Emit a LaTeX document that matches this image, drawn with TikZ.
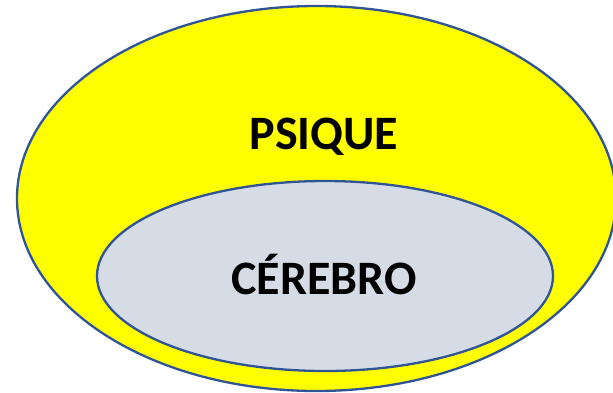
\documentclass[tikz,border=0pt]{standalone}
\usepackage{fontspec}
\setmainfont{Carlito}
\definecolor{edge}{HTML}{2F5597}
\definecolor{psy}{HTML}{FFFF00}
\definecolor{brain}{HTML}{D6DCE5}
\begin{document}
\begin{tikzpicture}[x=1pt,y=-1pt,
  blob/.style={draw=edge,line width=2.3pt},
  lbl/.style={font=\fontsize{48}{52}\selectfont\bfseries,text=black,inner sep=0pt}]
\useasboundingbox (0,0) rectangle (613,392);
\begin{scope}
\clip (0,0) rectangle (613,392);
\draw[blob,fill=psy] (316.5,198.5) ellipse [x radius=299.5, y radius=192.5];
\draw[blob,fill=brain] (325,276) ellipse [x radius=228, y radius=95];
\end{scope}
\node[lbl] (psique) at (324,137) {PSIQUE};
\node[lbl] (cerebro) at (324,274) {CÉREBRO};
\end{tikzpicture}
\end{document}
